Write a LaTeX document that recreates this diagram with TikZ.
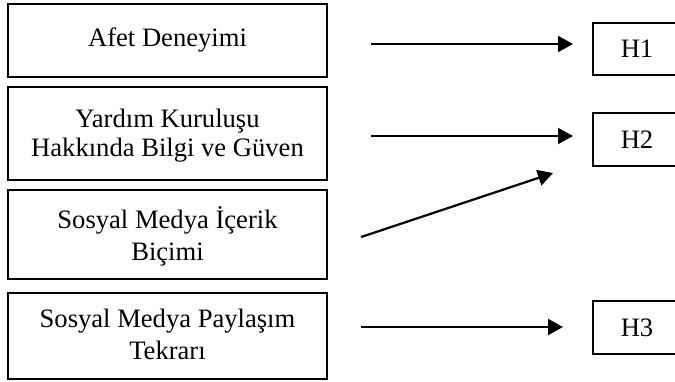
\documentclass[tikz,border=0pt]{standalone}
\usepackage{fontspec}
\setmainfont{Liberation Serif}
\usetikzlibrary{arrows.meta}
\begin{document}
\begin{tikzpicture}[x=0.5pt,y=-0.5pt,
  box/.style={draw,line width=1pt},
  lbl/.style={font=\fontsize{13.3}{15}\selectfont,align=center},
  conn/.style={line width=1.1pt,-{Triangle[length=7.5pt,width=8pt]}}]
\useasboundingbox (0,0) rectangle (675,381);
% left boxes
\draw[box] (8,4) rectangle (327,77);
\node[lbl] (b1) at (167.5,40) {Afet Deneyimi};
\draw[box] (8,87) rectangle (327,180);
\node[lbl,align=center] (b2) at (167.5,136) {Yardım Kuruluşu\\[-0.5pt]Hakkında Bilgi ve Güven};
\draw[box] (8,190) rectangle (327,279);
\node[lbl] (b3) at (167.5,236) {Sosyal Medya İçerik\\[1pt]Biçimi};
\draw[box] (8,293) rectangle (327,379);
\node[lbl] (b4) at (167.5,334) {Sosyal Medya Paylaşım\\[1pt]Tekrarı};
% right boxes
\draw[box] (593,23) rectangle (682,75);
\node[lbl] (h1) at (637,49) {H1};
\draw[box] (593,113) rectangle (682,166);
\node[lbl] (h2) at (637,139.5) {H2};
\draw[box] (593,301) rectangle (682,354);
\node[lbl] (h3) at (637,327.5) {H3};
% arrow endpoints
\coordinate (s1) at (371,44);  \coordinate (e1) at (573,44);
\coordinate (s2) at (371,136); \coordinate (e2) at (573,136);
\coordinate (s3) at (361,237); \coordinate (e3) at (553,173);
\coordinate (s4) at (361,327); \coordinate (e4) at (563,327);
\draw[conn] (s1) -- (e1);
\draw[conn] (s2) -- (e2);
\draw[conn] (s3) -- (e3);
\draw[conn] (s4) -- (e4);
\end{tikzpicture}
\end{document}
